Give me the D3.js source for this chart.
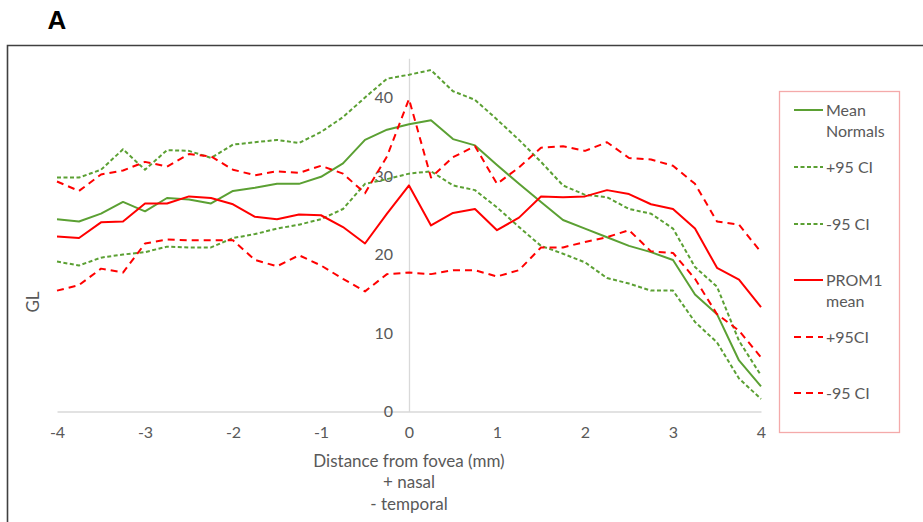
<!DOCTYPE html>
<html>
<head>
<meta charset="utf-8">
<script src="https://cdn.jsdelivr.net/npm/d3@7"></script>
<style>
  html, body { margin: 0; padding: 0; background: #fff; }
  svg { display: block; }
  text { font-family: Lato, "Open Sans", sans-serif; }
</style>
</head>
<body>
<svg id="chart" width="923" height="522"></svg>
<script>
const distances = [-4, -3.75, -3.5, -3.25, -3, -2.75, -2.5, -2.25, -2, -1.75, -1.5, -1.25, -1, -0.75, -0.5, -0.25,
  0, 0.25, 0.5, 0.75, 1, 1.25, 1.5, 1.75, 2, 2.25, 2.5, 2.75, 3, 3.25, 3.5, 3.75, 4];

const meanNormals = [24.5, 24.2, 25.2, 26.7, 25.5, 27.2, 27.0, 26.5, 28.1, 28.5, 29.0, 29.0, 29.9, 31.6, 34.6, 35.9,
  36.6, 37.1, 34.7, 33.9, 31.4, 29.0, 26.7, 24.4, 23.3, 22.2, 21.1, 20.3, 19.3, 14.9, 12.4, 6.5, 3.2];
const normalsUpper = [29.8, 29.8, 30.8, 33.4, 30.8, 33.3, 33.2, 32.3, 34.0, 34.3, 34.6, 34.2, 35.6, 37.5, 40.0, 42.4,
  42.9, 43.5, 40.8, 39.7, 37.2, 34.6, 31.8, 28.8, 27.6, 27.3, 25.8, 25.2, 23.3, 18.4, 15.9, 9.0, 4.6];
const normalsLower = [19.1, 18.6, 19.6, 20.0, 20.3, 21.0, 20.9, 20.9, 22.1, 22.6, 23.3, 23.8, 24.5, 25.8, 29.0, 29.6,
  30.3, 30.6, 28.8, 28.2, 26.0, 23.5, 21.1, 20.1, 19.0, 17.0, 16.3, 15.4, 15.4, 11.4, 8.8, 4.2, 1.6];
const prom1Mean = [22.3, 22.1, 24.1, 24.2, 26.5, 26.5, 27.4, 27.2, 26.4, 24.8, 24.5, 25.1, 25.0, 23.5, 21.4, 25.2,
  28.8, 23.7, 25.3, 25.8, 23.1, 24.7, 27.4, 27.3, 27.4, 28.2, 27.7, 26.4, 25.8, 23.3, 18.3, 16.8, 13.3];
const prom1Upper = [29.3, 28.1, 30.2, 30.7, 31.8, 31.2, 32.8, 32.5, 30.8, 30.1, 30.6, 30.4, 31.3, 30.3, 27.8, 32.5,
  39.8, 29.8, 32.4, 33.8, 29.0, 31.1, 33.6, 33.8, 33.2, 34.3, 32.3, 32.1, 31.3, 29.0, 24.2, 23.8, 20.3];
const prom1Lower = [15.4, 16.1, 18.2, 17.7, 21.4, 21.9, 21.8, 21.8, 21.8, 19.3, 18.5, 19.9, 18.6, 16.9, 15.3, 17.5,
  17.7, 17.5, 18.0, 18.0, 17.2, 18.0, 20.9, 20.9, 21.6, 22.2, 23.1, 20.4, 20.2, 16.9, 12.4, 10.3, 6.9];

const xTicks = [-4, -3, -2, -1, 0, 1, 2, 3, 4];
const yTicks = [0, 10, 20, 30, 40];
const legendLabels = [["Mean", "Normals"], ["+95 CI"], ["-95 CI"], ["PROM1", "mean"], ["+95CI"], ["-95 CI"]];

const GREEN = "#5ba033", RED = "#ff0000";
const seriesDefs = [
  { values: meanNormals, color: GREEN, dash: null },
  { values: normalsUpper, color: GREEN, dash: "4,2.5" },
  { values: normalsLower, color: GREEN, dash: "4,2.5" },
  { values: prom1Mean, color: RED, dash: null },
  { values: prom1Upper, color: RED, dash: "7,5" },
  { values: prom1Lower, color: RED, dash: "7,5" }
];

const svg = d3.select("#chart");

// panel letter
svg.append("text").attr("x", 57).attr("y", 29).attr("text-anchor", "middle")
  .style("font-family", "Arial, 'Liberation Sans', sans-serif").style("font-weight", "bold")
  .style("font-size", "26px").attr("fill", "#000").text("A");

// outer frame (extends beyond the window on right & bottom)
svg.append("path").attr("d", "M7.5,530 L7.5,45.5 L930,45.5")
  .attr("fill", "none").attr("stroke", "#404040").attr("stroke-width", 1.6);

const x = d3.scaleLinear().domain([-4, 4]).range([57, 761]);
const y = d3.scaleLinear().domain([0, 45]).range([411.5, 58.25]);
const fmt = d => String(d);

// x axis
const xAxis = svg.append("g").attr("transform", `translate(0,${y(0)})`)
  .call(d3.axisBottom(x).tickValues(xTicks).tickSize(0).tickPadding(15).tickFormat(fmt));
xAxis.select(".domain").attr("stroke", "#d9d9d9").attr("stroke-width", 1.3);
xAxis.selectAll("text").attr("fill", "#595959").style("font-size", "16px").style("font-family", "Lato, sans-serif");

// y axis at x = 0
const yAxis = svg.append("g").attr("transform", `translate(${x(0)},0)`)
  .call(d3.axisLeft(y).tickValues(yTicks).tickSize(0).tickPadding(16).tickFormat(fmt));
yAxis.select(".domain").attr("stroke", "#d9d9d9").attr("stroke-width", 1.3);
yAxis.selectAll("text").attr("fill", "#595959").style("font-size", "16px").style("font-family", "Lato, sans-serif");

// series
const line = d3.line().x((d, i) => x(distances[i])).y(d => y(d));
seriesDefs.forEach(s => {
  svg.append("path").datum(s.values).attr("d", line)
    .attr("fill", "none").attr("stroke", s.color).attr("stroke-width", 2)
    .attr("stroke-dasharray", s.dash).attr("stroke-linejoin", "round");
});

// axis titles
svg.append("text").attr("transform", "translate(39,302) rotate(-90)").attr("text-anchor", "middle")
  .attr("fill", "#595959").style("font-size", "17px").text("GL");
const xTitle = ["Distance from fovea (mm)", "+ nasal", "- temporal"];
xTitle.forEach((t, i) => {
  svg.append("text").attr("x", 409).attr("y", 466.5 + i * 21.5).attr("text-anchor", "middle")
    .attr("fill", "#595959").style("font-size", "17px").text(t);
});

// legend
svg.append("rect").attr("x", 779.5).attr("y", 91.5).attr("width", 120).attr("height", 341)
  .attr("fill", "#fff").attr("stroke", "#f4aaaa").attr("stroke-width", 1.3);
const legendY = [110, 167, 224, 280, 337, 393];
legendLabels.forEach((lbl, i) => {
  const s = seriesDefs[i];
  svg.append("line").attr("x1", 794).attr("x2", 823).attr("y1", legendY[i]).attr("y2", legendY[i])
    .attr("stroke", s.color).attr("stroke-width", 2).attr("stroke-dasharray", s.dash);
  lbl.forEach((t, j) => {
    svg.append("text").attr("x", 826).attr("y", legendY[i] + 5.5 + j * 21)
      .attr("fill", "#595959").style("font-size", "16px").text(t);
  });
});
</script>
</body>
</html>
